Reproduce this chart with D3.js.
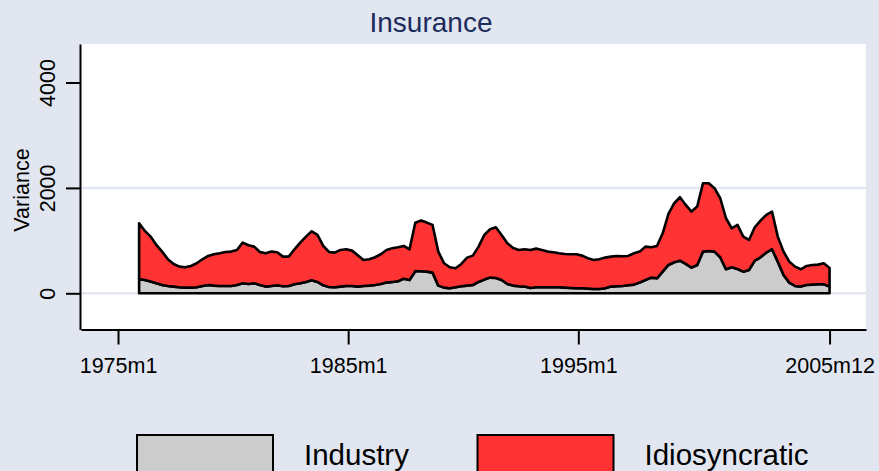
<!DOCTYPE html>
<html>
<head>
<meta charset="utf-8">
<script src="https://cdn.jsdelivr.net/npm/d3@7"></script>
<style>
  body { margin: 0; background: #e1e6f0; }
  svg { display: block; }
</style>
</head>
<body>
<script>
// quarterly readings, first one at 1975m12
const startMonth = "1975m12";
const stepMonths = 3;

const industry = [
  272, 253, 222, 190, 158, 139, 127, 114, 108, 108,
  114, 139, 158, 146, 139, 139, 139, 158, 190, 177,
  190, 158, 127, 139, 152, 133, 139, 171, 190, 215,
  247, 215, 152, 120, 114, 127, 139, 139, 127, 139,
  146, 158, 177, 203, 215, 228, 278, 253, 420, 418,
  411, 392, 146, 108, 95, 114, 133, 146, 158, 215,
  260, 298, 291, 253, 177, 146, 133, 127, 101, 114,
  114, 114, 114, 114, 108, 101, 95, 95, 89, 82,
  82, 95, 127, 133, 139, 152, 165, 203, 253, 298,
  285, 411, 538, 589, 620, 557, 487, 538, 791, 804,
  791, 684, 456, 494, 462, 411, 443, 620, 684, 772,
  836, 601, 348, 203, 139, 127, 158, 165, 171, 171,
  127
];

const idiosyncratic = [
  1057, 931, 854, 728, 633, 507, 430, 392, 386, 411,
  456, 507, 551, 595, 621, 646, 652, 665, 772, 734,
  696, 627, 633, 652, 627, 563, 557, 664, 772, 861,
  930, 893, 747, 665, 658, 696, 696, 671, 595, 494,
  500, 526, 564, 620, 640, 645, 621, 582, 920, 962,
  931, 906, 645, 462, 399, 361, 424, 531, 557, 671,
  848, 917, 962, 855, 773, 715, 690, 708, 722, 734,
  709, 677, 666, 646, 639, 640, 646, 620, 576, 551,
  564, 582, 569, 576, 564, 557, 595, 588, 633, 575,
  614, 728, 969, 1120, 1203, 1120, 1064, 1108, 1298, 1285,
  1203, 1120, 968, 740, 836, 665, 570, 633, 696, 716,
  715, 475, 443, 398, 367, 329, 361, 373, 373, 399,
  354
];

const seriesNames = ["Industry", "Idiosyncratic"];
const seriesColors = ["#cccccc", "#ff3333"];
const xTickLabels = ["1975m1", "1985m1", "1995m1", "2005m12"];
const yTickValues = [0, 2000, 4000];
const yGridValues = [0, 2000];

function monthIndex(s) {
  const [yr, mo] = s.split("m").map(Number);
  return (yr - 1960) * 12 + mo - 1;
}

const width = 879;
const height = 471;
const font = "'Liberation Sans', Arial, sans-serif";

const t0 = monthIndex(startMonth);
const rows = industry.map((v, i) => ({
  t: t0 + stepMonths * i,
  Industry: v,
  Idiosyncratic: idiosyncratic[i]
}));
const layers = d3.stack().keys(seriesNames)(rows);

const base = monthIndex("1975m1");
const x = d3.scaleLinear().domain([base - 19.3, base + 390]).range([81, 866]);
const y = d3.scaleLinear().domain([-687, 4731]).range([329.5, 44]);

const svg = d3.create("svg").attr("width", width).attr("height", height);

svg.append("rect")
  .attr("width", width).attr("height", height)
  .attr("fill", "#e1e6f0");

// plot region
svg.append("rect")
  .attr("x", 81).attr("y", 44)
  .attr("width", 785).attr("height", 285.5)
  .attr("fill", "white");

svg.selectAll(".grid")
  .data(yGridValues)
  .join("line")
  .attr("x1", 81).attr("x2", 866)
  .attr("y1", d => y(d)).attr("y2", d => y(d))
  .attr("stroke", "#e1e6f0")
  .attr("stroke-width", 2.5);

// stacked areas
const area = d3.area()
  .x(d => x(d.data.t))
  .y0(d => y(d[0]))
  .y1(d => y(d[1]));

svg.selectAll(".layer")
  .data(layers)
  .join("path")
  .attr("d", area)
  .attr("fill", (d, i) => seriesColors[i])
  .attr("stroke", "black")
  .attr("stroke-width", 2.6)
  .attr("stroke-linejoin", "round");

// y axis
const yAxis = svg.append("g")
  .attr("transform", "translate(80,0)")
  .call(d3.axisLeft(y).tickValues(yTickValues).tickFormat(d3.format("d"))
    .tickSize(14).tickSizeOuter(0));
yAxis.select(".domain").attr("stroke", "black").attr("stroke-width", 2);
yAxis.selectAll(".tick line").attr("stroke", "black").attr("stroke-width", 2);
yAxis.selectAll(".tick text")
  .attr("x", null).attr("dy", null)
  .attr("transform", "translate(-25,0) rotate(-90)")
  .attr("text-anchor", "middle")
  .attr("font-family", font)
  .attr("font-size", 21.5)
  .attr("fill", "black");

// x axis
const xAxis = svg.append("g")
  .attr("transform", "translate(0,329.5)")
  .call(d3.axisBottom(x)
    .tickValues(xTickLabels.map(monthIndex))
    .tickFormat((d, i) => xTickLabels[i])
    .tickSize(15).tickSizeOuter(0));
xAxis.select(".domain").attr("stroke", "black").attr("stroke-width", 2.2);
xAxis.selectAll(".tick line").attr("stroke", "black").attr("stroke-width", 2);
xAxis.selectAll(".tick text")
  .attr("y", 43).attr("dy", null)
  .attr("font-family", font)
  .attr("font-size", 21.5)
  .attr("fill", "black");

// axis title
svg.append("text")
  .attr("transform", "translate(28.5,190) rotate(-90)")
  .attr("text-anchor", "middle")
  .attr("font-family", font)
  .attr("font-size", 21.5)
  .text("Variance");

// title
svg.append("text")
  .attr("x", 431).attr("y", 32)
  .attr("text-anchor", "middle")
  .attr("font-family", font)
  .attr("font-size", 28)
  .attr("fill", "#1c2c5c")
  .text("Insurance");

// legend
const legendX = [137, 477.5];
const legend = svg.selectAll(".key")
  .data(seriesNames)
  .join("g")
  .attr("transform", (d, i) => `translate(${legendX[i]},435)`);
legend.append("rect")
  .attr("width", 136).attr("height", 45)
  .attr("fill", (d, i) => seriesColors[i])
  .attr("stroke", "black")
  .attr("stroke-width", 2);
legend.append("text")
  .attr("x", 167).attr("y", 30)
  .attr("font-family", font)
  .attr("font-size", 29.5)
  .text(d => d);

d3.select("body").append(() => svg.node());
</script>
</body>
</html>
